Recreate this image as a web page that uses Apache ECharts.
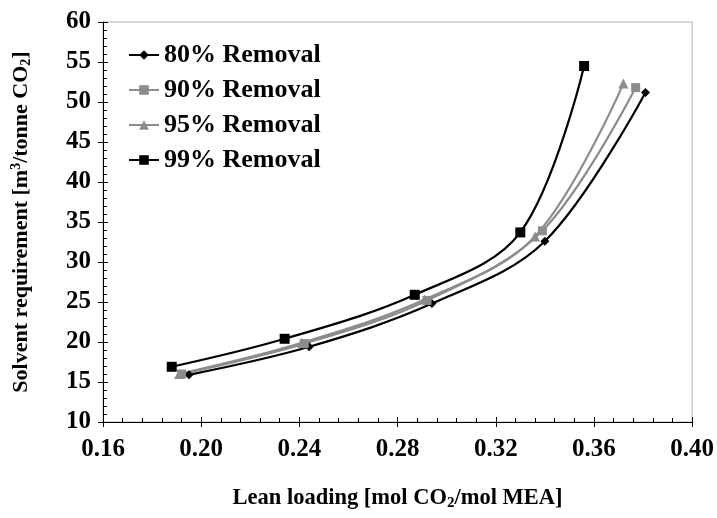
<!DOCTYPE html>
<html>
<head>
<meta charset="utf-8">
<script src="https://cdn.jsdelivr.net/npm/echarts@6/dist/echarts.min.js"></script>
<style>
  html, body { margin: 0; padding: 0; background: #ffffff; }
  #chart-container { width: 717px; height: 518px; }
</style>
</head>
<body>
<div id="chart-container"></div>
<script>
var dom = document.getElementById("chart-container");
var myChart = echarts.init(dom, null, { renderer: "canvas" });

// lean loading [mol CO2/mol MEA] and solvent requirement [m3/tonne CO2]
const lean80 = [0.195, 0.244, 0.294, 0.340, 0.381];
const solvent80 = [15.9, 19.4, 24.8, 32.6, 51.2];
const lean90 = [0.192, 0.242, 0.292, 0.339, 0.377];
const solvent90 = [16.0, 19.8, 25.2, 33.9, 51.8];
const lean95 = [0.191, 0.241, 0.291, 0.336, 0.372];
const solvent95 = [16.0, 19.9, 25.3, 33.2, 52.3];
const lean99 = [0.188, 0.234, 0.287, 0.330, 0.356];
const solvent99 = [16.9, 20.4, 25.9, 33.7, 54.5];

const seriesNames = ["80% Removal", "90% Removal", "95% Removal", "99% Removal"];

const FONT = "Liberation Serif";
const GRAY = "#8c8c8c";

function pairs(xs, ys) {
  return xs.map(function (x, i) {
    return [x, ys[i]];
  });
}

function makeSeries(name, xs, ys, color, symbol, size) {
  return {
    name: name,
    type: "line",
    data: pairs(xs, ys),
    smooth: 0.35,
    symbol: symbol,
    symbolSize: size,
    showAllSymbol: true,
    lineStyle: { color: color, width: 2.2 },
    itemStyle: { color: color },
    emphasis: { disabled: true },
  };
}

const axisLabelStyle = {
  fontFamily: FONT,
  fontWeight: "bold",
  fontSize: 25,
  color: "#000",
};

option = {
  backgroundColor: "#ffffff",
  animation: false,
  grid: {
    left: 103,
    right: 24,
    top: 22,
    bottom: 96,
    show: true,
    borderColor: "#b4b4b4",
    borderWidth: 1,
  },
  legend: {
    orient: "vertical",
    left: 123,
    top: 37,
    itemWidth: 30,
    itemHeight: 12,
    itemGap: 9,
    data: seriesNames,
    textStyle: {
      fontFamily: FONT,
      fontWeight: "bold",
      fontSize: 26,
      color: "#000",
    },
  },
  xAxis: [
    {
      type: "value",
      min: 0.16,
      max: 0.40,
      interval: 0.04,
      position: "bottom",
      axisLine: { show: true, lineStyle: { color: "#000", width: 1 } },
      axisTick: { show: true, inside: true, length: 5, lineStyle: { color: "#000" } },
      minorTick: { show: true, splitNumber: 5, length: 4, lineStyle: { color: "#000" } },
      splitLine: { show: false },
      axisLabel: Object.assign({ margin: 15, formatter: function (v) { return v.toFixed(2); } }, axisLabelStyle),
      name: "{a|Lean loading [mol CO}{s|2}{a|/mol MEA]}",
      nameLocation: "middle",
      nameGap: 64,
      nameTextStyle: {
        rich: {
          a: { fontFamily: FONT, fontWeight: "bold", fontSize: 22.5, color: "#000" },
          s: { fontFamily: FONT, fontWeight: "bold", fontSize: 15, color: "#000", padding: [10, 0, 0, 0] },
        },
      },
    },
    {
      type: "value",
      min: 0.16,
      max: 0.40,
      interval: 0.04,
      position: "bottom",
      axisLine: { show: false },
      axisTick: { show: true, inside: false, length: 5, lineStyle: { color: "#000" } },
      axisLabel: { show: false },
      splitLine: { show: false },
    },
  ],
  yAxis: [
    {
      type: "value",
      min: 10,
      max: 60,
      interval: 5,
      position: "left",
      axisLine: { show: true, lineStyle: { color: "#000", width: 1 } },
      axisTick: { show: true, inside: true, length: 5, lineStyle: { color: "#000" } },
      minorTick: { show: true, splitNumber: 5, length: 4, lineStyle: { color: "#000" } },
      splitLine: { show: false },
      axisLabel: Object.assign({ margin: 12 }, axisLabelStyle),
      name: "{a|Solvent requirement [m}{p|3}{a|/tonne CO}{s|2}{a|]}",
      nameLocation: "middle",
      nameGap: 70,
      nameTextStyle: {
        rich: {
          a: { fontFamily: FONT, fontWeight: "bold", fontSize: 22, color: "#000" },
          p: { fontFamily: FONT, fontWeight: "bold", fontSize: 14, color: "#000", padding: [0, 0, 10, 0] },
          s: { fontFamily: FONT, fontWeight: "bold", fontSize: 14, color: "#000", padding: [10, 0, 0, 0] },
        },
      },
    },
    {
      type: "value",
      min: 10,
      max: 60,
      interval: 5,
      position: "left",
      axisLine: { show: false },
      axisTick: { show: true, inside: false, length: 5, lineStyle: { color: "#000" } },
      axisLabel: { show: false },
      splitLine: { show: false },
    },
  ],
  series: [
    makeSeries(seriesNames[0], lean80, solvent80, "#000000", "diamond", 9),
    makeSeries(seriesNames[1], lean90, solvent90, GRAY, "rect", 9),
    makeSeries(seriesNames[2], lean95, solvent95, GRAY, "triangle", 10),
    makeSeries(seriesNames[3], lean99, solvent99, "#000000", "rect", 10),
  ],
};

myChart.setOption(option);
window.addEventListener("resize", myChart.resize);
</script>
</body>
</html>
